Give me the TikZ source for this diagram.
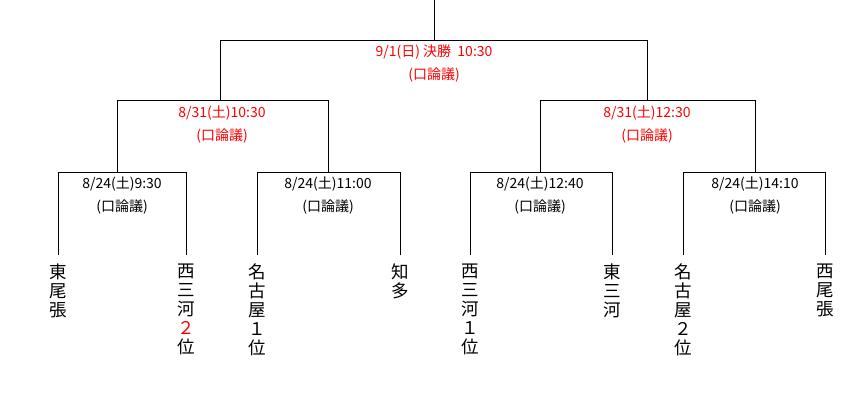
\documentclass[tikz,border=0pt]{standalone}
\usepackage{fontspec}
\setmainfont{Noto Sans CJK JP}
\begin{document}
\begin{tikzpicture}[x=1pt,y=-1pt,
  ln/.style={draw=black,line width=0.8pt},
  lbl/.style={font=\fontsize{14}{23}\selectfont,align=center,inner sep=0pt},
  red/.style={text=red},
  team/.style={font=\fontsize{17.5}{19}\selectfont,align=center,anchor=north,inner sep=0pt}]
\useasboundingbox (0,0) rectangle (850,400);
% coordinates
\coordinate (top) at (434,0);
\coordinate (f) at (434,40);
\coordinate (sL) at (220,40); \coordinate (sR) at (647,40);
\coordinate (sLb) at (220,100); \coordinate (sRb) at (647,100);
\coordinate (q1) at (117,100); \coordinate (q2) at (328,100);
\coordinate (q3) at (540,100); \coordinate (q4) at (755,100);
\coordinate (q1b) at (117,172); \coordinate (q2b) at (328,172);
\coordinate (q3b) at (540,172); \coordinate (q4b) at (755,172);
\foreach \n/\x in {a/58,b/186,c/257,d/400,e/470,f/612,g/683,h/825}{
  \coordinate (\n t) at (\x,172); \coordinate (\n b) at (\x,255);}
\draw[ln] (top) -- (f);
\draw[ln] (sLb) -- (sL) -- (sR) -- (sRb);
\draw[ln] (q1b) -- (q1) -- (q2) -- (q2b);
\draw[ln] (q3b) -- (q3) -- (q4) -- (q4b);
\draw[ln] (ab) -- (at) -- (bt) -- (bb);
\draw[ln] (cb) -- (ct) -- (dt) -- (db);
\draw[ln] (eb) -- (et) -- (ft) -- (fb);
\draw[ln] (gb) -- (gt) -- (ht) -- (hb);
% labels
\node[lbl,red] (lf) at (434,63) {9/1(日) 決勝\ \ 10:30\\(口論議)};
\node[lbl,red] (ls1) at (222,125) {8/31(土)10:30\\(口論議)};
\node[lbl,red] (ls2) at (647,125) {8/31(土)12:30\\(口論議)};
\node[lbl] (l1) at (122,196) {8/24(土)9:30\\(口論議)};
\node[lbl] (l2) at (328,196) {8/24(土)11:00\\(口論議)};
\node[lbl] (l3) at (540,196) {8/24(土)12:40\\(口論議)};
\node[lbl] (l4) at (755,196) {8/24(土)14:10\\(口論議)};
% teams
\node[team] (ta) at (58,264) {東\\尾\\張};
\node[team] (tb) at (186,264) {西\\三\\河\\\textcolor{red}{２}\\位};
\node[team] (tc) at (257,264) {名\\古\\屋\\１\\位};
\node[team] (td) at (400,264) {知\\多};
\node[team] (te) at (470,264) {西\\三\\河\\１\\位};
\node[team] (tf) at (612,264) {東\\三\\河};
\node[team] (tg) at (683,264) {名\\古\\屋\\２\\位};
\node[team] (th) at (825,264) {西\\尾\\張};
\end{tikzpicture}
\end{document}
